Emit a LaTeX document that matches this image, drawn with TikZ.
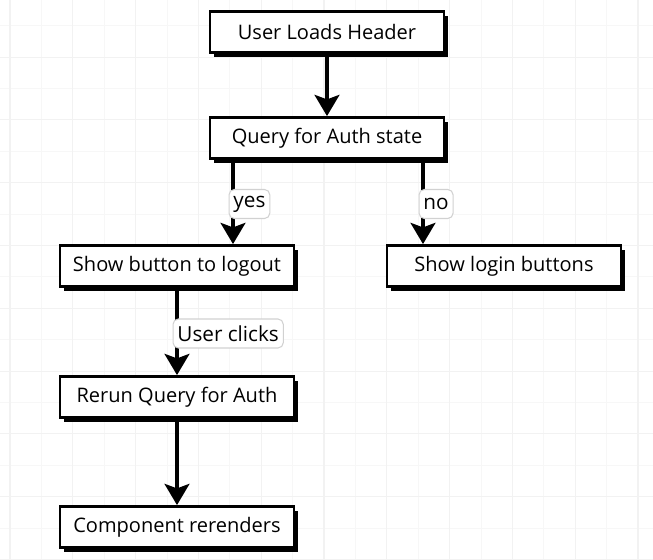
\documentclass[tikz,border=0pt]{standalone}
\usepackage{fontspec}
\setmainfont{Open Sans}
\usetikzlibrary{
  arrows.meta,
  calc,
  shadows
}
\tikzset{
  box/.style={
    draw,
    line width=1.6pt,
    fill=white,
    minimum width=4.68cm,
    minimum height=0.82cm,
    font=\fontsize{11.4}{13}\selectfont,
    drop shadow={shadow xshift=2.4pt, shadow yshift=-2.4pt, fill=black, opacity=1}},
  flow/.style={
    line width=2.8pt,
    -{Stealth[length=12pt, width=14pt, inset=2.5pt]}},
  tag/.style={
    draw=black!18,
    fill=white,
    rounded corners=3pt,
    line width=0.6pt,
    inner xsep=2.5pt,
    minimum height=0.58cm,
    anchor=west,
    xshift=-0.09cm,
    yshift=-0.04cm,
    font=\fontsize{11.8}{13}\selectfont},
  gridmin/.style={draw=black!3, line width=0.5pt},
  gridmaj/.style={draw=black!5, line width=0.6pt}
  }

\begin{document}
\begin{tikzpicture}[x=0.02cm, y=-0.02cm]
  \useasboundingbox (0,0) rectangle (653,560);
  \fill[white] (0,0) rectangle (653,560);
  % grid
  \foreach \i in {0,...,20} {
    \draw[gridmin] ({10+31.4*\i},0) -- ({10+31.4*\i},560);
  }
  \foreach \i in {0,...,18} {
    \draw[gridmin] (0,{-5.7+31.4*\i}) -- (653,{-5.7+31.4*\i});
  }
  \foreach \i in {0,...,10} {
    \draw[gridmaj] ({10+62.8*\i},0) -- ({10+62.8*\i},560);
  }
  \foreach \i in {1,...,9} {
    \draw[gridmaj] (0,{-5.7+62.8*\i}) -- (653,{-5.7+62.8*\i});
  }

  \node[box] (load) at (327,32) {User Loads Header};
  \node[box] (query) at (327,138) {Query for Auth state};
  \node[box] (logout) at (177,266) {Show button to logout};
  \node[box] (login) at (504,266) {Show login buttons};
  \node[box] (rerun) at (177,397) {Rerun Query for Auth};
  \node[box] (render) at (177,527) {Component rerenders};

  \coordinate (yx) at (233,0);
  \coordinate (nx) at (423,0);

  \path[flow]
  (load) edge (query)
  (query.south -| yx) edge node[tag]{yes} (logout.north -| yx)
  (query.south -| nx) edge node[tag]{no} (login.north -| nx)
  (logout) edge node[tag]{User clicks} (rerun)
  (rerun) edge (render);
\end{tikzpicture}
\end{document}
